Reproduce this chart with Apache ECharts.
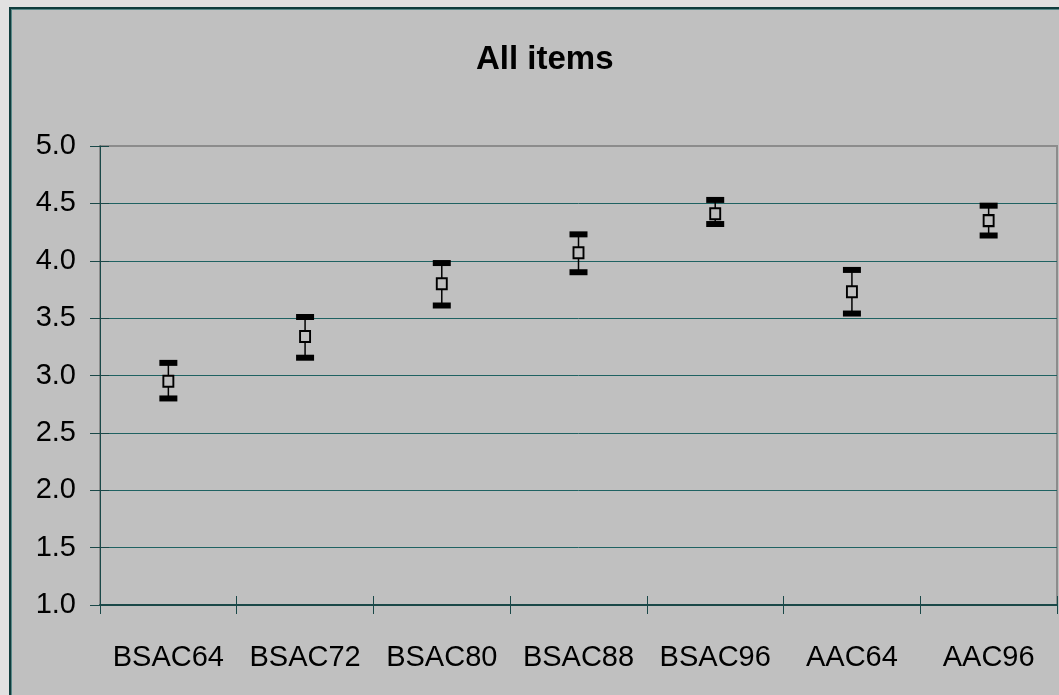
<!DOCTYPE html>
<html>
<head>
<meta charset="utf-8">
<script src="https://cdn.jsdelivr.net/npm/echarts@6/dist/echarts.min.js"></script>
<style>
	html,body{margin:0;padding:0;background:#e1e1e1;overflow:hidden;}
	#frame{position:absolute;left:9px;top:7px;width:1100px;height:800px;background:#c0c0c0;border:2px solid #0f3d3d;box-shadow:inset 1px 1px 0 #5a8888;}
	#main{position:absolute;left:0;top:0;width:1059px;height:695px;}
</style>
</head>
<body>
<div id="frame"></div>
<div id="main"></div>
<script>
var categories = ['BSAC64','BSAC72','BSAC80','BSAC88','BSAC96','AAC64','AAC96'];
var means = [2.95, 3.34, 3.80, 4.07, 4.41, 3.73, 4.35];
var lower = [2.80, 3.155, 3.61, 3.90, 4.32, 3.54, 4.22];
var upper = [3.11, 3.51, 3.98, 4.23, 4.53, 3.92, 4.48];
var yTicks = [1.0, 1.5, 2.0, 2.5, 3.0, 3.5, 4.0, 4.5, 5.0];

(function(){
	var font = 'Liberation Sans, Arial, sans-serif';
	var myChart = echarts.init(document.getElementById('main'), null, {renderer: 'canvas'});
	var errData = categories.map(function(c, i){ return [i, lower[i], upper[i]]; });
	var meanData = categories.map(function(c, i){ return [i, means[i]]; });

	myChart.setOption({
		backgroundColor: 'transparent',
		animation: false,
		title: {
			text: 'All items',
			left: 471,
			top: 38,
			textStyle: {fontFamily: font, fontSize: 33, fontWeight: 'bold', color: '#000'}
		},
		grid: {
			left: 100, top: 146, right: 2, bottom: 90,
			show: true,
			borderColor: '#8c8c8c',
			borderWidth: 2,
			backgroundColor: 'transparent'
		},
		xAxis: [
			{
				type: 'category',
				data: categories,
				boundaryGap: true,
				axisLine: {lineStyle: {color: '#1a4848', width: 2}},
				axisTick: {show: true, length: 9, lineStyle: {color: '#1a4848'}},
				axisLabel: {fontFamily: font, fontSize: 29, color: '#000', margin: 38, interval: 0}
			},
			{
				type: 'category',
				data: categories,
				position: 'bottom',
				boundaryGap: true,
				axisLine: {show: false},
				axisTick: {show: true, inside: true, length: 9, lineStyle: {color: '#1a4848'}},
				axisLabel: {show: false}
			}
		],
		yAxis: [
			{
				type: 'value',
				min: yTicks[0],
				max: yTicks[yTicks.length - 1],
				interval: 0.5,
				axisLine: {show: true, lineStyle: {color: '#1a4848', width: 1}},
				axisTick: {show: true, length: 10, lineStyle: {color: '#1a4848'}},
				axisLabel: {
					fontFamily: font, fontSize: 29, color: '#000', margin: 24,
					formatter: function(v){ return v.toFixed(1); }
				},
				splitLine: {show: true, showMinLine: false, showMaxLine: false, lineStyle: {color: '#1f6262', width: 1}}
			},
			{
				type: 'value',
				position: 'left',
				min: yTicks[0],
				max: yTicks[yTicks.length - 1],
				interval: 0.5,
				axisLine: {show: false},
				axisTick: {show: true, inside: true, length: 9, lineStyle: {color: '#1a4848'}},
				axisLabel: {show: false},
				splitLine: {show: false}
			}
		],
		series: [
			{
				type: 'custom',
				data: errData,
				z: 3,
				renderItem: function(params, api){
					var x = api.value(0);
					var lo = api.coord([x, api.value(1)]);
					var hi = api.coord([x, api.value(2)]);
					var w = 18, h = 6;
					return {
						type: 'group',
						children: [
							{type: 'line', shape: {x1: lo[0], y1: lo[1], x2: hi[0], y2: hi[1]}, style: {stroke: '#000', lineWidth: 1.5}},
							{type: 'rect', shape: {x: hi[0] - w/2, y: hi[1] - h/2, width: w, height: h}, style: {fill: '#000'}},
							{type: 'rect', shape: {x: lo[0] - w/2, y: lo[1] - h/2, width: w, height: h}, style: {fill: '#000'}}
						]
					};
				}
			},
			{
				type: 'scatter',
				data: meanData,
				z: 4,
				symbol: 'rect',
				symbolSize: [10, 11],
				itemStyle: {color: '#c0c0c0', borderColor: '#000', borderWidth: 2, opacity: 1}
			}
		]
	});
})();
</script>
</body>
</html>
